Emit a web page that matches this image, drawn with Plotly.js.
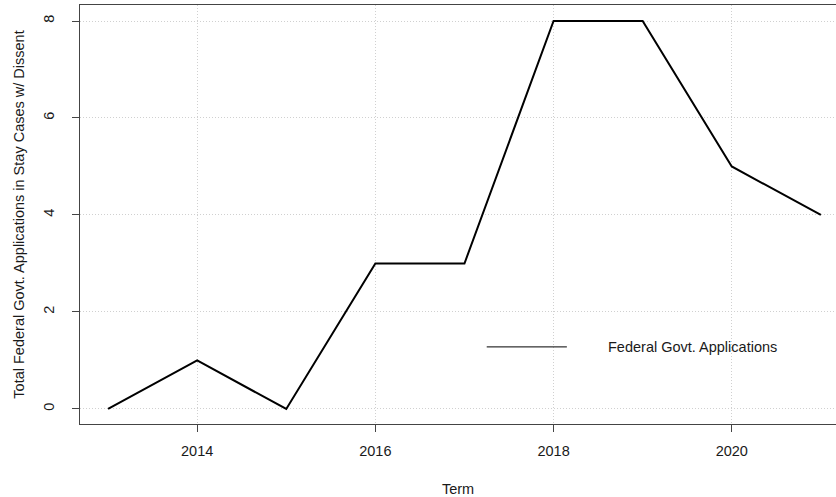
<!DOCTYPE html>
<html>
<head>
<meta charset="utf-8">
<script src="https://cdn.plot.ly/plotly-3.0.1.min.js"></script>
<style>html,body{margin:0;padding:0;background:#fff;}#chart{width:836px;height:497px;}</style>
</head>
<body>
<div id="chart"></div>
<script>
var terms = [2013, 2014, 2015, 2016, 2017, 2018, 2019, 2020, 2021];
var applications = [0, 1, 0, 3, 3, 8, 8, 5, 4];
var xTicks = [2014, 2016, 2018, 2020];
var yTicks = [0, 2, 4, 6, 8];
var seriesName = "Federal Govt. Applications";

var font = {family: "Liberation Sans, Arial, Helvetica, sans-serif", size: 14.5, color: "#1a1a1a"};

var trace = {
  x: terms, y: applications, type: "scatter", mode: "lines",
  line: {color: "#000", width: 2}, name: seriesName, showlegend: false
};

var layout = {
  width: 836, height: 497,
  margin: {l: 80, r: 0, t: 5, b: 73},
  paper_bgcolor: "#fff", plot_bgcolor: "#fff",
  font: font,
  showlegend: false,
  xaxis: {
    range: [2012.685, 2021.17],
    tickvals: xTicks, ticktext: xTicks.map(String),
    ticks: "outside", ticklen: 7, tickcolor: "#444", tickwidth: 1,
    showline: true, linecolor: "#444", linewidth: 1, mirror: true,
    showgrid: true, gridcolor: "#d0d0d0", griddash: "1px,2px", gridwidth: 1,
    zeroline: false,
    ticklabelstandoff: 7,
    title: {text: "Term", font: font, standoff: 26}
  },
  yaxis: {
    range: [-0.31, 8.33],
    tickvals: yTicks, ticktext: yTicks.map(String),
    tickangle: -90,
    ticks: "outside", ticklen: 7, tickcolor: "#444", tickwidth: 1,
    showline: true, linecolor: "#444", linewidth: 1,
    showgrid: true, gridcolor: "#d0d0d0", griddash: "1px,2px", gridwidth: 1,
    zeroline: false,
    ticklabelstandoff: 12,
    title: {text: "Total Federal Govt. Applications in Stay Cases w/ Dissent", font: font, standoff: 13}
  },
  shapes: [{
    type: "line", xref: "paper", yref: "paper",
    x0: 0.538, x1: 0.644, y0: 0.184, y1: 0.184,
    line: {color: "#000", width: 1}
  }],
  annotations: [{
    xref: "paper", yref: "paper", x: 0.696, y: 0.184,
    xanchor: "left", yanchor: "middle", showarrow: false,
    text: seriesName, font: font
  }]
};

Plotly.newPlot("chart", [trace], layout, {displayModeBar: false, staticPlot: true});
</script>
</body>
</html>
